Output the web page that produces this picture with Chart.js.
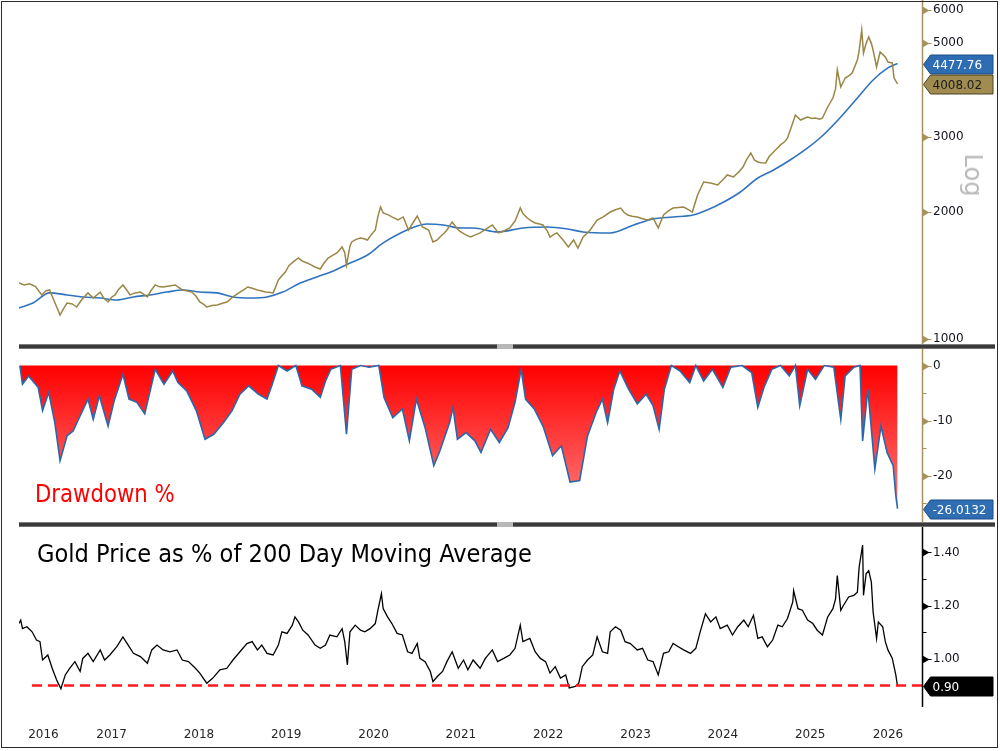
<!DOCTYPE html>
<html>
<head>
<meta charset="utf-8">
<script src="https://cdn.jsdelivr.net/npm/chart.js@4.4.1/dist/chart.umd.min.js"></script>
<style>
  html, body { margin: 0; padding: 0; background: #fff; }
  #wrap { position: relative; width: 1000px; height: 751px; overflow: hidden; font-family: "DejaVu Sans", sans-serif; }
  canvas { position: absolute; left: 0; }
  .frame { position: absolute; left: 1px; top: 1px; width: 997px; height: 747px; border: 1px solid #2b2b2b; box-sizing: border-box; }
  .sep { position: absolute; left: 19px; width: 976px; height: 5px; background: linear-gradient(#a0a0a0, #3a3a3a 30%, #3a3a3a 70%, #8c8c8c); }
  .grip { position: absolute; left: 497px; width: 16px; height: 5px; background: #b8b8b8; }
  .txt { position: absolute; white-space: nowrap; transform-origin: 0 0; }
</style>
</head>
<body>
<div id="wrap">
  <canvas id="priceChart" width="1000" height="346" style="top:0"></canvas>
  <canvas id="ddChart" width="1000" height="175" style="top:349px"></canvas>
  <canvas id="ratioChart" width="1000" height="225" style="top:526px"></canvas>

  <div class="sep" style="top:344px"></div><div class="grip" style="top:344px"></div>
  <div class="sep" style="top:522px"></div><div class="grip" style="top:522px"></div>

  <div class="txt" style="left:973px;top:175px;font-size:24px;line-height:24px;color:#b8b8b8;transform-origin:50% 50%;transform:translate(-50%,-50%) rotate(90deg)">Log</div>
  <div class="txt" style="left:35px;top:481px;font-size:25px;line-height:25px;color:#ff0000;transform:scaleX(0.85)">Drawdown %</div>
  <div class="txt" style="left:37px;top:542px;font-size:24px;line-height:24px;color:#000;transform:scaleX(0.94)">Gold Price as % of 200 Day Moving Average</div>
  <div class="frame"></div>
</div>

<script>
// gold spot price (decimal years)
var priceDates = [
  2016.44,2016.50,2016.56,2016.63,2016.70,2016.75,2016.79,2016.85,2016.91,2016.95,2016.99,
  2017.05,2017.10,2017.16,2017.23,2017.29,2017.37,2017.41,2017.46,2017.50,2017.54,2017.58,2017.63,2017.68,2017.71,2017.77,2017.83,2017.87,2017.91,2017.95,
  2018.00,2018.04,2018.09,2018.16,2018.23,2018.31,2018.36,2018.42,2018.47,2018.51,2018.56,2018.59,2018.65,2018.71,2018.77,2018.82,2018.89,2018.97,
  2019.02,2019.06,2019.11,2019.17,2019.21,2019.26,2019.30,2019.35,2019.38,2019.41,2019.45,2019.49,2019.53,2019.58,2019.64,2019.68,2019.74,2019.79,2019.83,2019.89,2019.93,2019.98,
  2020.04,2020.08,2020.14,2020.17,2020.19,2020.23,2020.25,2020.30,2020.35,2020.39,2020.43,2020.47,2020.52,2020.55,2020.58,2020.61,2020.67,2020.71,2020.78,2020.84,2020.90,2020.95,
  2021.00,2021.06,2021.13,2021.18,2021.23,2021.26,2021.31,2021.34,2021.40,2021.46,2021.49,2021.55,2021.61,2021.66,2021.72,2021.79,2021.86,2021.93,2021.99,
  2022.06,2022.12,2022.16,2022.18,2022.21,2022.26,2022.31,2022.35,2022.40,2022.44,2022.49,2022.52,2022.57,2022.60,2022.67,2022.73,2022.79,2022.84,2022.90,2022.98,
  2023.06,2023.13,2023.21,2023.27,2023.33,2023.37,2023.41,2023.46,2023.52,2023.58,2023.64,2023.70,2023.76,2023.82,2023.88,2023.93,2023.99,
  2024.05,2024.11,2024.15,2024.21,2024.28,2024.36,2024.44,2024.50,2024.55,2024.62,2024.68,2024.73,2024.77,2024.82,2024.86,2024.90,2024.94,2024.99,
  2025.03,2025.08,2025.12,2025.16,2025.21,2025.24,2025.30,2025.33,2025.39,2025.44,2025.47,2025.52,2025.56,2025.61,2025.64,2025.70,2025.76,2025.79,2025.81,2025.85,2025.90,2025.95,2025.98,
  2026.04,2026.06,2026.09,2026.11,2026.14,2026.17,2026.20,2026.22,2026.26,2026.30,2026.36,2026.39,2026.44,2026.46,2026.50
];
var priceValues = [
  1356,1342,1350,1330,1271,1300,1306,1220,1139,1180,1216,
  1210,1190,1240,1285,1250,1291,1250,1223,1255,1271,1310,1342,1300,1271,1285,1291,1275,1257,1300,
  1342,1330,1327,1335,1342,1306,1300,1291,1260,1223,1205,1190,1200,1203,1215,1223,1257,1291,
  1310,1327,1318,1306,1300,1291,1290,1285,1330,1379,1410,1440,1490,1521,1554,1530,1512,1495,1480,1464,1510,1554,
  1580,1597,1650,1600,1496,1660,1696,1720,1733,1725,1714,1760,1810,1950,2051,1986,1965,1943,1911,1943,1810,1880,
  1953,1840,1810,1696,1715,1742,1780,1810,1891,1820,1795,1765,1742,1760,1781,1820,1860,1781,1800,
  1830,1900,1990,2040,1980,1932,1900,1880,1870,1860,1800,1742,1770,1781,1714,1650,1714,1641,1742,1810,
  1911,1943,1996,2020,2040,1990,1964,1950,1943,1925,1911,1932,1830,1964,2010,2040,2045,
  2051,2020,1996,2190,2350,2338,2312,2380,2442,2415,2480,2550,2650,2753,2650,2621,2610,2607,
  2700,2768,2820,2876,2930,2987,3241,3385,3294,3330,3348,3320,3330,3310,3330,3536,3713,3900,4325,3942,4140,4200,4255,
  4566,4800,5377,4744,5000,5176,5000,4822,4396,4770,4642,4517,4493,4140,4008.02
];

// 200 day moving average
var maDates = [
  2016.44,2016.60,2016.79,2016.99,2017.17,2017.37,2017.56,2017.75,2017.94,2018.13,2018.32,2018.51,2018.71,2018.89,
  2019.09,2019.28,2019.46,2019.66,2019.85,2020.04,2020.23,2020.43,2020.61,2020.81,2021.00,2021.11,2021.30,2021.49,
  2021.64,2021.92,2022.21,2022.49,2022.72,2022.90,2023.21,2023.48,2023.70,2023.93,2024.16,2024.32,2024.51,2024.70,
  2024.90,2025.08,2025.27,2025.47,2025.65,2025.85,2026.04,2026.22,2026.39,2026.46,2026.50
];
var maValues = [
  1184,1216,1285,1271,1257,1250,1236,1257,1271,1291,1306,1291,1285,1257,
  1250,1257,1291,1356,1402,1448,1512,1580,1687,1781,1850,1870,1860,1830,
  1830,1791,1830,1840,1820,1791,1781,1860,1922,1943,1964,2018,2108,2226,
  2402,2509,2649,2829,3036,3348,3713,4096,4373,4444,4477.76
];

// drawdown %
var ddDates = [
  2016.45,2016.48,2016.55,2016.66,2016.71,2016.78,2016.85,2016.91,2016.99,
  2017.06,2017.13,2017.23,2017.29,2017.36,2017.46,2017.53,2017.63,2017.70,2017.79,2017.88,
  2018.00,2018.10,2018.20,2018.26,2018.36,2018.47,2018.57,2018.67,2018.78,2018.88,2018.97,
  2019.07,2019.18,2019.28,2019.34,2019.41,2019.51,2019.61,2019.68,2019.79,2019.89,2019.95,
  2020.01,2020.12,2020.19,2020.25,2020.35,2020.45,2020.56,2020.62,2020.72,2020.83,2020.91,2020.99,
  2021.09,2021.19,2021.26,2021.37,2021.41,2021.46,2021.56,2021.66,2021.73,2021.84,2021.94,
  2022.04,2022.12,2022.19,2022.24,2022.34,2022.44,2022.55,2022.65,2022.75,2022.86,2022.95,
  2023.05,2023.12,2023.18,2023.25,2023.32,2023.42,2023.52,2023.62,2023.70,2023.77,2023.83,2023.91,
  2024.01,2024.12,2024.19,2024.28,2024.38,2024.50,2024.59,2024.72,2024.83,2024.90,2024.97,
  2025.06,2025.16,2025.26,2025.33,2025.38,2025.47,2025.56,2025.66,2025.77,2025.85,2025.90,
  2026.00,2026.07,2026.10,2026.16,2026.24,2026.31,2026.38,2026.45,2026.48,2026.50
];
var ddValues = [
  0,-3.4,-1.9,-4.0,-8.2,-4.9,-10.4,-17.3,-12.8,
  -11.9,-9.5,-6.1,-9.8,-5.5,-11.0,-6.4,-1.6,-6.1,-6.7,-8.8,
  -0.7,-3.4,-1.0,-3.1,-4.6,-8.2,-13.4,-12.5,-10.4,-8.2,-5.2,
  -3.7,-5.2,-6.1,-3.4,0,-1.0,0,-3.7,-4.3,-5.8,-2.8,
  -0.7,0,-12.5,-0.7,0,-0.3,0,-5.8,-9.5,-7.9,-13.7,-6.1,
  -11.3,-18.2,-15.5,-10.4,-7.6,-13.4,-12.2,-13.7,-15.8,-11.6,-14.0,
  -11.3,-6.7,-0.7,-6.1,-7.9,-11.0,-16.4,-14.6,-21.2,-20.9,-12.8,
  -8.5,-6.1,-10.4,-4.3,-1.0,-4.3,-7.0,-5.2,-7.3,-11.6,-4.3,0,
  -1.0,-3.1,0,-2.8,-0.7,-4.0,-0.3,0,-1.3,-7.6,-4.0,
  -0.7,0,-1.9,0,-7.3,-0.7,-2.5,0,-0.3,-9.8,-1.9,
  -0.3,0,-13.7,-4.3,-18.8,-11.0,-15.8,-18.2,-23.6,-26.0132
];

// price / 200d moving average
var ratioDates = [
  2016.44,2016.46,2016.48,2016.53,2016.59,2016.64,2016.68,2016.71,2016.77,2016.82,2016.87,2016.92,2016.97,
  2017.02,2017.08,2017.14,2017.17,2017.23,2017.29,2017.37,2017.42,2017.48,2017.56,2017.63,2017.69,2017.75,2017.83,2017.91,2017.96,
  2018.02,2018.09,2018.17,2018.25,2018.31,2018.38,2018.46,2018.51,2018.59,2018.66,2018.74,2018.82,2018.89,2018.97,
  2019.05,2019.11,2019.17,2019.22,2019.28,2019.35,2019.41,2019.45,2019.51,2019.57,2019.60,2019.64,2019.69,2019.75,2019.83,2019.89,2019.95,
  2020.00,2020.08,2020.14,2020.17,2020.20,2020.23,2020.29,2020.35,2020.40,2020.46,2020.52,2020.55,2020.59,2020.61,2020.66,2020.71,2020.77,2020.83,2020.89,2020.94,
  2021.00,2021.03,2021.09,2021.15,2021.18,2021.23,2021.29,2021.34,2021.40,2021.47,2021.53,2021.58,2021.64,2021.72,2021.78,2021.86,2021.92,2021.99,
  2022.06,2022.12,2022.18,2022.21,2022.29,2022.35,2022.41,2022.47,2022.52,2022.58,2022.64,2022.70,2022.74,2022.81,2022.85,2022.89,2022.95,
  2023.01,2023.06,2023.12,2023.18,2023.21,2023.27,2023.33,2023.38,2023.44,2023.52,2023.58,2023.64,2023.70,2023.76,2023.82,2023.88,2023.93,2023.99,
  2024.05,2024.13,2024.19,2024.24,2024.30,2024.36,2024.42,2024.47,2024.55,2024.61,2024.67,2024.74,2024.79,2024.85,2024.90,2024.95,
  2025.01,2025.07,2025.13,2025.18,2025.24,2025.30,2025.31,2025.36,2025.41,2025.47,2025.53,2025.58,2025.64,2025.70,2025.76,2025.79,2025.81,2025.85,2025.88,2025.94,
  2026.00,2026.04,2026.06,2026.10,2026.11,2026.14,2026.17,2026.20,2026.22,2026.26,2026.28,2026.33,2026.36,2026.39,2026.44,2026.48,2026.50
];
var ratioValues = [
  1.133,1.146,1.114,1.121,1.102,1.071,1.065,0.996,1.015,0.965,0.922,0.888,0.940,
  0.965,0.990,0.953,1.002,1.021,0.990,1.034,0.996,1.015,1.046,1.083,1.052,1.021,1.009,0.984,1.034,
  1.052,1.034,1.027,1.034,0.996,0.990,0.965,0.947,0.909,0.928,0.959,0.965,0.996,1.027,
  1.058,1.065,1.034,1.052,1.021,1.015,1.052,1.102,1.096,1.127,1.158,1.139,1.108,1.090,1.052,1.040,1.052,
  1.090,1.083,1.114,1.065,0.978,1.102,1.127,1.108,1.102,1.114,1.133,1.183,1.245,1.189,1.158,1.133,1.096,1.090,1.027,1.021,
  1.058,1.002,0.990,0.953,0.915,0.934,0.953,0.990,1.027,0.965,0.996,0.959,0.996,0.965,1.002,1.034,0.990,1.002,
  1.015,1.040,1.127,1.065,1.077,1.027,1.002,0.990,0.947,0.971,0.928,0.940,0.891,0.897,0.909,0.971,0.996,
  1.015,1.083,1.027,1.021,1.102,1.121,1.108,1.065,1.058,1.034,1.040,0.996,0.990,0.940,1.021,1.027,1.058,1.046,
  1.034,1.021,1.040,1.102,1.170,1.139,1.158,1.114,1.127,1.090,1.121,1.146,1.121,1.164,1.077,1.083,
  1.046,1.071,1.127,1.121,1.152,1.214,1.257,1.189,1.183,1.146,1.133,1.108,1.090,1.158,1.189,1.226,1.313,1.183,1.201,1.233,
  1.239,1.251,1.345,1.428,1.239,1.320,1.332,1.289,1.177,1.077,1.139,1.121,1.065,1.034,1.002,0.940,0.897
];

var yearLabels = [2016, 2017, 2018, 2019, 2020, 2021, 2022, 2023, 2024, 2025, 2026];
var priceTicks = [1000, 2000, 3000, 5000, 6000];
var ddTicks = [0, -10, -20];
var ddMinorTicks = [-5, -15, -25];
var ratioTicks = [1.4, 1.2, 1.0];
var ratioMinorTicks = [1.3, 1.1];
var ratioFloor = 0.90;

var xMin = 2016.44, xMax = 2026.78;

var GOLD = '#9a8646';
var MA_BLUE = '#2f73bf';
var DD_BLUE = '#2a67ab';
var TAN_AXIS = '#a8925c';
var LABEL = '#14141e';

Chart.defaults.font.family = '"DejaVu Sans", sans-serif';
Chart.defaults.font.size = 12;
Chart.defaults.color = LABEL;

function pts(dates, values) {
  return dates.map(function (t, i) { return { x: t, y: values[i] }; });
}

function fixedAxis(s) {
  s.width = 78;
  s.paddingTop = 0;
  s.paddingBottom = 0;
}

// axis line, flag ticks, last value tags, optional threshold
var rightAxis = {
  id: 'rightAxis',
  afterDatasetsDraw: function (chart, args, opts) {
    var ctx = chart.ctx, a = chart.chartArea, ys = chart.scales.y;
    var x0 = a.right + 0.5;
    ctx.save();
    if (opts.threshold !== undefined) {
      var ty = ys.getPixelForValue(opts.threshold);
      ctx.strokeStyle = '#ff1a1a';
      ctx.lineWidth = 2.5;
      ctx.setLineDash([10, 6]);
      ctx.beginPath();
      ctx.moveTo(a.left + 13, ty);
      ctx.lineTo(a.right, ty);
      ctx.stroke();
      ctx.setLineDash([]);
    }
    ctx.strokeStyle = opts.color;
    ctx.lineWidth = 1.5;
    ctx.beginPath();
    ctx.moveTo(x0, a.top - opts.up);
    ctx.lineTo(x0, a.bottom + 2);
    ctx.stroke();
    ctx.fillStyle = opts.color;
    ctx.lineWidth = 1;
    opts.majors.forEach(function (v) {
      var y = Math.round(ys.getPixelForValue(v)) + 0.5;
      ctx.beginPath();
      ctx.moveTo(x0, y - 4);
      ctx.lineTo(x0 + 7, y);
      ctx.lineTo(x0, y + 4);
      ctx.closePath();
      ctx.fill();
      ctx.beginPath();
      ctx.moveTo(x0, y);
      ctx.lineTo(x0 + 9, y);
      ctx.stroke();
    });
    (opts.minors || []).forEach(function (v) {
      var y = Math.round(ys.getPixelForValue(v)) + 0.5;
      ctx.beginPath();
      ctx.moveTo(x0, y);
      ctx.lineTo(x0 + 4, y);
      ctx.stroke();
    });
    (opts.tags || []).forEach(function (t) {
      var y = Math.round(ys.getPixelForValue(t.value)) + 0.5;
      ctx.beginPath();
      ctx.moveTo(x0 + 1, y);
      ctx.lineTo(x0 + 8, y - 9.5);
      ctx.lineTo(993, y - 9.5);
      ctx.lineTo(993, y + 9.5);
      ctx.lineTo(x0 + 8, y + 9.5);
      ctx.closePath();
      ctx.fillStyle = t.fill;
      ctx.fill();
      ctx.strokeStyle = t.edge;
      ctx.lineWidth = 1;
      ctx.stroke();
      ctx.fillStyle = t.textColor;
      ctx.font = '12px "DejaVu Sans"';
      ctx.textAlign = 'left';
      ctx.textBaseline = 'middle';
      ctx.fillText(t.text, x0 + 10, y + 1);
    });
    ctx.restore();
  }
};

// *** PRICE + MA (log) ***
new Chart(document.getElementById('priceChart'), {
  type: 'line',
  data: {
    datasets: [{
      data: pts(priceDates, priceValues),
      borderColor: GOLD,
      borderWidth: 1.5,
      pointRadius: 0,
      tension: 0
    }, {
      data: pts(maDates, maValues),
      borderColor: MA_BLUE,
      borderWidth: 1.6,
      pointRadius: 0,
      cubicInterpolationMode: 'monotone'
    }]
  },
  options: {
    responsive: false,
    animation: false,
    layout: { padding: { left: 19, top: 2, bottom: 2, right: 0 } },
    plugins: {
      legend: { display: false },
      tooltip: { enabled: false },
      rightAxis: {
        color: TAN_AXIS, up: 2, majors: priceTicks,
        tags: [
          { value: 4477.76, text: '4477.76', fill: '#2f6db3', edge: '#1d4c85', textColor: '#ffffff' },
          { value: 4008.02, text: '4008.02', fill: '#a08c50', edge: '#4d4222', textColor: '#1a1a1a' }
        ]
      }
    },
    scales: {
      x: { type: 'linear', min: xMin, max: xMax, display: false },
      y: {
        type: 'logarithmic', position: 'right', min: 973, max: 6262,
        grid: { display: false, drawTicks: false },
        border: { display: false },
        afterBuildTicks: function (s) { s.ticks = priceTicks.map(function (v) { return { value: v }; }); },
        afterFit: fixedAxis,
        ticks: { padding: 11, callback: function (v) { return String(v); } }
      }
    }
  },
  plugins: [rightAxis]
});

// *** DRAWDOWN ***
function ddFill(c) {
  var chart = c.chart;
  if (!chart.chartArea) return '#ff3030';
  var y = chart.scales.y;
  var g = chart.ctx.createLinearGradient(0, y.getPixelForValue(0), 0, y.getPixelForValue(-26));
  g.addColorStop(0, '#ff0000');
  g.addColorStop(1, '#ff7a7a');
  return g;
}

new Chart(document.getElementById('ddChart'), {
  type: 'line',
  data: {
    datasets: [{
      data: pts(ddDates, ddValues),
      borderColor: DD_BLUE,
      borderWidth: 1.6,
      backgroundColor: ddFill,
      fill: 'origin',
      pointRadius: 0,
      tension: 0
    }]
  },
  options: {
    responsive: false,
    animation: false,
    layout: { padding: { left: 19, top: 2, bottom: 4, right: 0 } },
    plugins: {
      legend: { display: false },
      tooltip: { enabled: false },
      filler: { propagate: false },
      rightAxis: {
        color: TAN_AXIS, up: 2, majors: ddTicks, minors: ddMinorTicks,
        tags: [{ value: -26.0132, text: '-26.0132', fill: '#2f6db3', edge: '#1d4c85', textColor: '#ffffff' }]
      }
    },
    scales: {
      x: { type: 'linear', min: xMin, max: xMax, display: false },
      y: {
        position: 'right', min: -28.09, max: 2.64,
        grid: { display: false, drawTicks: false },
        border: { display: false },
        afterBuildTicks: function (s) { s.ticks = ddTicks.map(function (v) { return { value: v }; }); },
        afterFit: fixedAxis,
        ticks: { padding: 11, callback: function (v) { return String(v); } }
      }
    }
  },
  plugins: [rightAxis]
});

// *** PRICE / 200 DMA ***
new Chart(document.getElementById('ratioChart'), {
  type: 'line',
  data: {
    datasets: [{
      data: pts(ratioDates, ratioValues),
      borderColor: '#000000',
      borderWidth: 1.3,
      pointRadius: 0,
      tension: 0
    }]
  },
  options: {
    responsive: false,
    animation: false,
    layout: { padding: { left: 19, top: 2, bottom: 0, right: 0 } },
    plugins: {
      legend: { display: false },
      tooltip: { enabled: false },
      rightAxis: {
        color: '#000000', up: 1, majors: ratioTicks, minors: ratioMinorTicks, threshold: ratioFloor,
        tags: [{ value: ratioFloor, text: ratioFloor.toFixed(2), fill: '#000000', edge: '#000000', textColor: '#ffffff' }]
      }
    },
    scales: {
      x: {
        type: 'linear', min: xMin, max: xMax, position: 'bottom',
        grid: { display: false, drawTicks: false },
        border: { display: false },
        afterBuildTicks: function (s) {
          s.ticks = yearLabels.map(function (y) {
            return { value: (Math.max(y, xMin) + Math.min(y + 1, xMax)) / 2 };
          });
        },
        afterFit: function (s) { s.height = 46; s.paddingLeft = 0; s.paddingRight = 0; },
        ticks: {
          padding: 23, autoSkip: false, maxRotation: 0, color: '#262626',
          callback: function (v) { return String(Math.floor(v)); }
        }
      },
      y: {
        position: 'right', min: 0.827, max: 1.492,
        grid: { display: false, drawTicks: false },
        border: { display: false },
        afterBuildTicks: function (s) { s.ticks = ratioTicks.map(function (v) { return { value: v }; }); },
        afterFit: fixedAxis,
        ticks: { padding: 11, callback: function (v) { return v.toFixed(2); } }
      }
    }
  },
  plugins: [rightAxis]
});
</script>
</body>
</html>
